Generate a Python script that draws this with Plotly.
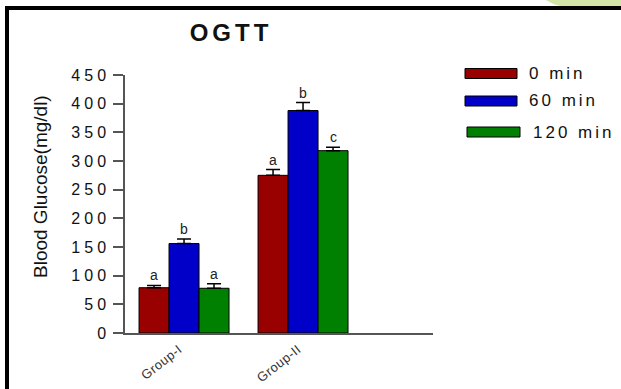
import plotly.graph_objects as go

# OGTT blood glucose per group at three sampling times (mean + SEM)
groups = ["Group-I", "Group-II"]
time_points = ["0 min", "60 min", "120 min"]
glucose_0 = [79, 275]
glucose_60 = [156, 388]
glucose_120 = [78, 318]
sem_0 = [4, 10]
sem_60 = [8, 14]
sem_120 = [8, 6]
letters_0 = ["a", "a"]
letters_60 = ["b", "b"]
letters_120 = ["a", "c"]
y_tick_values = [0, 50, 100, 150, 200, 250, 300, 350, 400, 450]
y_tick_labels = ["0", "50", "100", "150", "200", "250", "300", "350", "400", "450"]
y_title = "Blood Glucose(mg/dl)"
bar_colors = ["#990000", "#0000c8", "#008000"]

means = [glucose_0, glucose_60, glucose_120]
sems = [sem_0, sem_60, sem_120]
letters = [letters_0, letters_60, letters_120]

W, H = 621, 389
ML, MR, MT, MB = 125, 188, 75, 56
PW, PH = W - ML - MR, H - MT - MB
FONT = "Arial, Liberation Sans, sans-serif"
BARGAP = 0.244


def spaced(txt, px):
    return f'<span style="letter-spacing:{px}px">{txt}</span>'


def paper_x(px):
    return (px - ML) / PW


def paper_y(py):
    return (H - MB - py) / PH


fig = go.Figure()
for k in range(3):
    fig.add_trace(go.Bar(
        x=groups, y=means[k], name=time_points[k],
        marker=dict(color=bar_colors[k], line=dict(color="black", width=1)),
        error_y=dict(type="data", symmetric=False, array=sems[k],
                     arrayminus=[0] * len(groups),
                     color="black", thickness=1.5, width=7),
        showlegend=False,
    ))

# significance letters above each error bar
bar_w = (1 - BARGAP) / 3
annotations = []
for k in range(3):
    for i in range(len(groups)):
        annotations.append(dict(
            x=i + (k - 1) * bar_w, y=means[k][i] + sems[k][i],
            xref="x", yref="y", text=letters[k][i], showarrow=False,
            yanchor="bottom", yshift=0,
            font=dict(family=FONT, size=14, color="#222"),
        ))

# y-axis title, placed beside the tick labels
annotations.append(dict(
    x=paper_x(40), y=paper_y(187), xref="paper", yref="paper",
    text=y_title, textangle=-90, showarrow=False,
    xanchor="center", yanchor="middle",
    font=dict(family=FONT, size=19, color="#111"),
))

# legend: wide swatches with labels
shapes = []
rows_y = [73.5, 101, 132]
sw_x0 = [465, 465, 467]
sw_x1 = [517, 517, 520]
txt_x = [527, 527, 531]
for k in range(3):
    shapes.append(dict(
        type="rect", xref="paper", yref="paper",
        x0=paper_x(sw_x0[k]), x1=paper_x(sw_x1[k]),
        y0=paper_y(rows_y[k] + 5), y1=paper_y(rows_y[k] - 5),
        fillcolor=bar_colors[k], line=dict(color="black", width=1),
    ))
    annotations.append(dict(
        x=paper_x(txt_x[k]), y=paper_y(rows_y[k]), xref="paper", yref="paper",
        text=spaced(time_points[k], 3), showarrow=False,
        xanchor="left", yanchor="middle",
        font=dict(family=FONT, size=17, color="#111"),
    ))

# frame lines along the top and left edges
shapes.append(dict(type="line", xref="paper", yref="paper",
                   x0=paper_x(5), x1=paper_x(625), y0=paper_y(8), y1=paper_y(8),
                   line=dict(color="black", width=4)))
shapes.append(dict(type="line", xref="paper", yref="paper",
                   x0=paper_x(7), x1=paper_x(7), y0=paper_y(6), y1=paper_y(395),
                   line=dict(color="black", width=4)))
# pale green corner decoration
gx = [paper_x(v) for v in (546, 621, 621, 560, 552)]
gy = [paper_y(v) for v in (0, 0, 6, 6, 4)]
shapes.append(dict(
    type="path", xref="paper", yref="paper",
    path=f"M {gx[0]},{gy[0]} L {gx[1]},{gy[1]} L {gx[2]},{gy[2]} "
         f"L {gx[3]},{gy[3]} Q {gx[4]},{gy[4]} {gx[0]},{gy[0]} Z",
    fillcolor="#d3e4a8", line=dict(width=0), layer="below",
))

fig.update_layout(
    width=W, height=H, autosize=False,
    margin=dict(l=ML, r=MR, t=MT, b=MB, pad=0, autoexpand=False),
    paper_bgcolor="white", plot_bgcolor="white",
    barmode="group", bargap=BARGAP, bargroupgap=0,
    font=dict(family=FONT, color="#111"),
    title=dict(text="<b>" + spaced("OGTT", 4) + "</b>",
               x=231 / W, xref="container", xanchor="center",
               y=1 - 33 / H, yref="container", yanchor="middle",
               font=dict(family=FONT, size=24, color="#111")),
    xaxis=dict(
        type="category", range=[-0.496, 2.092], automargin=False,
        tickmode="array", tickvals=groups,
        ticktext=[spaced(g, 0.5) for g in groups],
        showline=True, linecolor="#555", linewidth=1.5,
        ticks="", tickangle=-38, showgrid=False, zeroline=False,
        tickfont=dict(family=FONT, size=13, color="#333"),
        ticklabelstandoff=2, ticklabelshift=-5,
    ),
    yaxis=dict(
        range=[0, 450], tickmode="array", tickvals=y_tick_values,
        automargin=False,
        ticktext=[spaced(t, 4) for t in y_tick_labels],
        showline=True, linecolor="#555", linewidth=1.5,
        ticks="outside", ticklen=10, tickwidth=1.5, tickcolor="#555",
        showgrid=False, zeroline=False,
        tickfont=dict(family=FONT, size=16, color="#111"),
    ),
    annotations=annotations,
    shapes=shapes,
)

fig.write_html("out.html")
